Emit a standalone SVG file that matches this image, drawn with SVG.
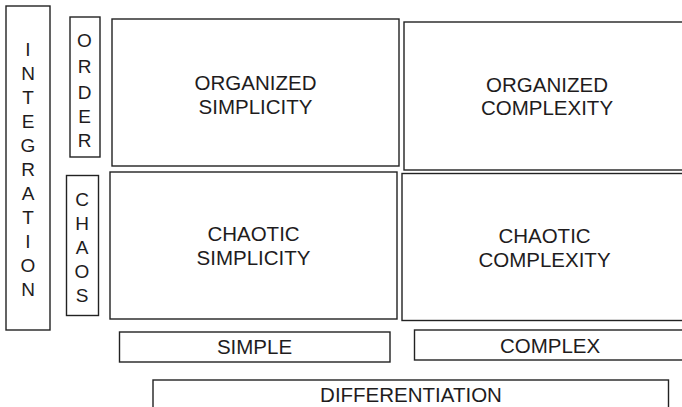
<svg xmlns="http://www.w3.org/2000/svg" width="682" height="407" viewBox="0 0 682 407">
<style>
rect{fill:#fff;stroke:#222;stroke-width:1.4}
text{font-family:"Liberation Sans",Arial,sans-serif;fill:#1e1c1d;text-anchor:middle}
.b{font-size:20.5px}
.v{font-size:19px}
</style>
<rect x="0" y="0" width="682" height="407" style="stroke:none"/>
<g id="integration">
<rect x="6" y="6" width="44" height="324"/>
<text class="v" x="28"><tspan x="28" y="56">I</tspan><tspan x="28" y="80">N</tspan><tspan x="28" y="104">T</tspan><tspan x="28" y="128">E</tspan><tspan x="28" y="152">G</tspan><tspan x="28" y="176">R</tspan><tspan x="28" y="200">A</tspan><tspan x="28" y="224">T</tspan><tspan x="28" y="248">I</tspan><tspan x="28" y="272">O</tspan><tspan x="28" y="296">N</tspan></text>
</g>
<g id="order">
<rect x="70" y="17" width="30" height="140"/>
<text class="v"><tspan x="84.5" y="47">O</tspan><tspan x="84.5" y="73">R</tspan><tspan x="84.5" y="99">D</tspan><tspan x="84.5" y="123">E</tspan><tspan x="84.5" y="147">R</tspan></text>
</g>
<g id="chaos">
<rect x="66.5" y="175.5" width="32" height="140"/>
<text class="v"><tspan x="82" y="206">C</tspan><tspan x="82" y="230">H</tspan><tspan x="82" y="254">A</tspan><tspan x="82" y="278">O</tspan><tspan x="82" y="302">S</tspan></text>
</g>
<g id="organized-simplicity">
<rect x="112" y="19" width="287" height="147"/>
<text class="b"><tspan x="255.5" y="90">ORGANIZED</tspan><tspan x="255.5" y="113.5">SIMPLICITY</tspan></text>
</g>
<g id="organized-complexity">
<rect x="404" y="22" width="286" height="148"/>
<text class="b"><tspan x="547" y="91.5">ORGANIZED</tspan><tspan x="547" y="115">COMPLEXITY</tspan></text>
</g>
<g id="chaotic-simplicity">
<rect x="110" y="172" width="287" height="147"/>
<text class="b"><tspan x="253.5" y="241">CHAOTIC</tspan><tspan x="253.5" y="264.5">SIMPLICITY</tspan></text>
</g>
<g id="chaotic-complexity">
<rect x="402" y="173.5" width="286" height="147"/>
<text class="b"><tspan x="544.5" y="242.5">CHAOTIC</tspan><tspan x="544.5" y="266.5">COMPLEXITY</tspan></text>
</g>
<g id="simple">
<rect x="119.5" y="332" width="270.5" height="30"/>
<text class="b" x="254.5" y="353.5">SIMPLE</text>
</g>
<g id="complex">
<rect x="414.5" y="330" width="272" height="30"/>
<text class="b" x="550" y="352.5">COMPLEX</text>
</g>
<g id="differentiation">
<rect x="153" y="380" width="515.5" height="40"/>
<text class="b" x="411" y="401.5">DIFFERENTIATION</text>
</g>
<g id="connectors"/>
</svg>
